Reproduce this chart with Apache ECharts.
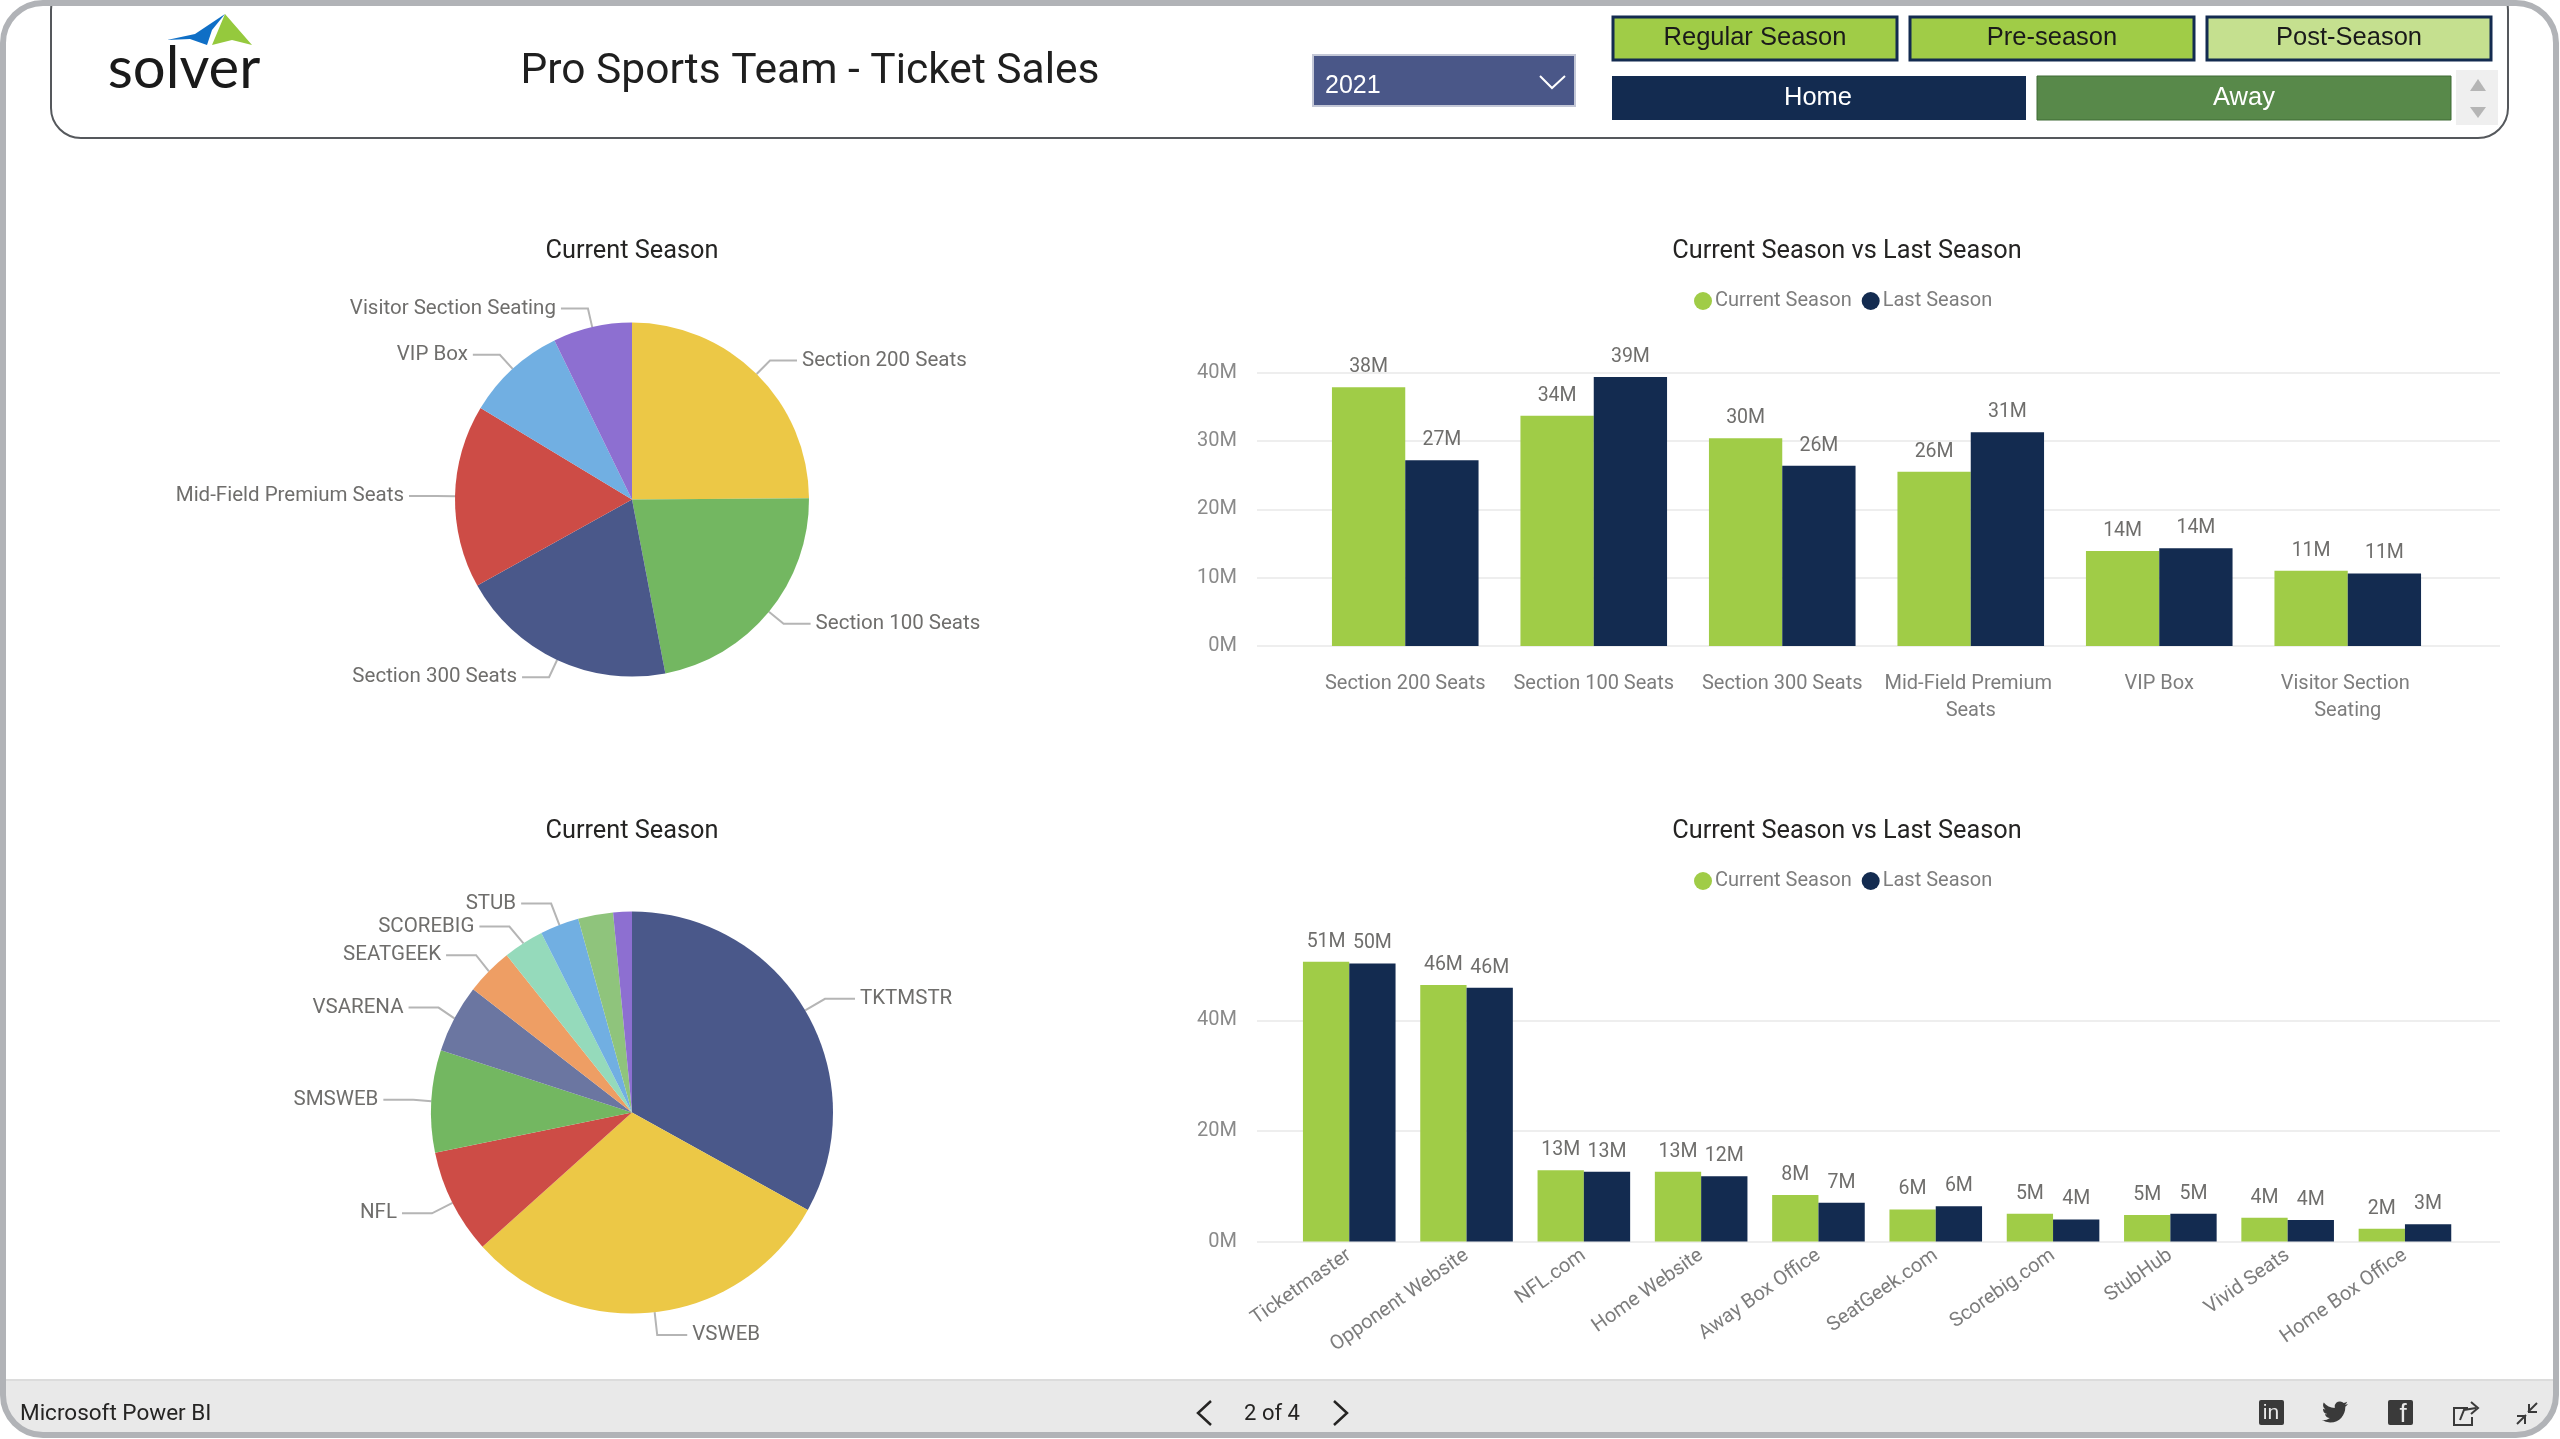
<!DOCTYPE html>
<html>
<head>
    <meta charset="utf-8">
    <title>Pro Sports Team - Ticket Sales</title>
    <script src="https://cdn.jsdelivr.net/npm/echarts@6/dist/echarts.min.js"></script>
    <style>
        html, body { margin: 0; padding: 0; background: #fff; }
        #main { width: 2560px; height: 1439px; }
    </style>
</head>
<body>
<div id="main"></div>
<script type="text/javascript">
    // seat sections
    var seatNames = ['Section 200 Seats', 'Section 100 Seats', 'Section 300 Seats', 'Mid-Field Premium Seats', 'VIP Box', 'Visitor Section Seating'];
    var seatCurrent = [37.9, 33.7, 30.4, 25.5, 13.9, 11.0];
    var seatLast = [27.2, 39.4, 26.4, 31.3, 14.3, 10.6];
    var seatTicks = 10;

    // sales channels
    var channelNames = ['Ticketmaster', 'Opponent Website', 'NFL.com', 'Home Website', 'Away Box Office', 'SeatGeek.com', 'Scorebig.com', 'StubHub', 'Vivid Seats', 'Home Box Office'];
    var channelCodes = ['TKTMSTR', 'VSWEB', 'NFL', 'SMSWEB', 'VSARENA', 'SEATGEEK', 'SCOREBIG', 'STUB', 'VIVID', 'HOMEBOX'];
    var channelCurrent = [50.6, 46.4, 12.9, 12.6, 8.4, 5.8, 5.0, 4.8, 4.3, 2.3];
    var channelLast = [50.3, 45.9, 12.6, 11.8, 7.0, 6.4, 4.0, 5.0, 3.9, 3.1];
    var channelTicks = 20;

    var seasonButtons = ['Regular Season', 'Pre-season', 'Post-Season'];
    var pieColors = ['#ECC846', '#73B761', '#4A588A', '#CD4C46', '#71AFE2', '#8D6FD1'];
    var channelColors = ['#4A588A', '#ECC846', '#CD4C46', '#73B761', '#6B76A1', '#EE9E64', '#95DABB', '#71AFE2', '#8FC47C', '#8D6FD1'];

    var GREEN = '#A0CC47', NAVY = '#132B50';
    var LABEL_FONT = 'Roboto';
    var BTN_FONT = 'Liberation Sans';

    function pieSeries(names, values, colors, center, radius, labelled, lineLen, lineLen2) {
        return {
            type: 'pie',
            center: center,
            radius: radius,
            startAngle: 90,
            silent: true,
            label: { color: '#6f6e6c', fontFamily: LABEL_FONT, fontSize: 20.5 },
            labelLine: { length: lineLen, length2: lineLen2, lineStyle: { color: '#b5b5b5', width: 2 } },
            data: names.map(function (n, i) {
                var show = i < labelled;
                return {
                    name: n, value: values[i],
                    itemStyle: { color: colors[i] },
                    label: { show: show },
                    labelLine: { show: show }
                };
            })
        };
    }

    function barSeries(name, values, color, axisIdx, width) {
        return {
            name: name,
            type: 'bar',
            xAxisIndex: axisIdx,
            yAxisIndex: axisIdx,
            barWidth: width,
            barGap: 0,
            silent: true,
            itemStyle: { color: color },
            label: {
                show: true, position: 'top', distance: 10,
                color: '#6f6e6c', fontFamily: LABEL_FONT, fontSize: 19.5,
                formatter: function (p) { return Math.round(p.value) + 'M'; }
            },
            data: values
        };
    }

    // wide grid only carries the gridlines and tick labels, bars sit in an inner grid
    function tickAxes(gridIdx, step) {
        return {
            x: { type: 'category', gridIndex: gridIdx, show: false, data: [] },
            y: {
                type: 'value', gridIndex: gridIdx, min: 0, max: 40, interval: step,
                axisLine: { show: false }, axisTick: { show: false },
                axisLabel: { color: '#8a8a8a', fontFamily: LABEL_FONT, fontSize: 20, margin: 20, formatter: '{value}M' },
                splitLine: { lineStyle: { color: '#eeeeee', width: 2 } }
            }
        };
    }

    function barAxes(gridIdx, names, max, labelOpt) {
        return {
            x: {
                type: 'category', gridIndex: gridIdx, data: names,
                axisLine: { show: false }, axisTick: { show: false },
                axisLabel: Object.assign({ interval: 0, color: '#7d7d7d', fontFamily: LABEL_FONT, fontSize: 20 }, labelOpt)
            },
            y: { type: 'value', gridIndex: gridIdx, min: 0, max: max, show: false, splitLine: { show: false } }
        };
    }

    function legend(top) {
        return {
            top: top, left: 1694, icon: 'circle', padding: 0,
            itemWidth: 18, itemHeight: 18, itemGap: 10,
            selectedMode: false,
            textStyle: { color: '#7d7d7d', fontFamily: LABEL_FONT, fontSize: 20, padding: [0, 0, 0, -2] },
            data: ['Current Season', 'Last Season']
        };
    }

    function title(text, x, y) {
        return {
            text: text, left: x, top: y, padding: 0, textAlign: 'center', textVerticalAlign: 'middle',
            textStyle: { color: '#252423', fontFamily: LABEL_FONT, fontSize: 25.3, fontWeight: 'normal' }
        };
    }

    function box(x, y, w, h, fill, stroke, lw, r, z) {
        return {
            type: 'rect', z: z || 1,
            shape: { x: x, y: y, width: w, height: h, r: r || 0 },
            style: { fill: fill, stroke: stroke || null, lineWidth: lw || 0 }
        };
    }

    function label(text, x, y, size, color, font, align) {
        return {
            type: 'text', z: 5, x: x, y: y,
            style: { text: text, fill: color, fontFamily: font || LABEL_FONT, fontSize: size, align: align || 'center', verticalAlign: 'middle' }
        };
    }

    function line(points, color, lw) {
        return { type: 'polyline', z: 5, shape: { points: points }, style: { stroke: color, lineWidth: lw, fill: null } };
    }

    function triangle(points, color) {
        return { type: 'polygon', z: 5, shape: { points: points }, style: { fill: color } };
    }

    var TWITTER = 'M23.953 4.57 a10 10 0 0 1 -2.825 .775 4.958 4.958 0 0 0 2.163 -2.723 c-.951 .555 -2.005 .959 -3.127 1.184 a4.92 4.92 0 0 0 -8.384 4.482 C7.69 8.095 4.067 6.13 1.64 3.162 a4.822 4.822 0 0 0 -.666 2.475 c0 1.71 .87 3.213 2.188 4.096 a4.904 4.904 0 0 1 -2.228 -.616 v.06 a4.923 4.923 0 0 0 3.946 4.827 4.996 4.996 0 0 1 -2.212 .085 4.936 4.936 0 0 0 4.604 3.417 9.867 9.867 0 0 1 -6.102 2.105 c-.39 0 -.779 -.023 -1.17 -.067 a13.995 13.995 0 0 0 7.557 2.209 c9.053 0 13.998 -7.496 13.998 -13.985 0 -.21 0 -.42 -.015 -.63 A9.935 9.935 0 0 0 24 4.59 z';
    echarts.graphic.registerShape('twitterBird', echarts.graphic.extendPath(TWITTER));

    var graphics = [
        // footer bar and frame
        box(3, 1380, 2553, 55, '#e9e9e9', null, 0, [0, 0, 40, 40], 1),
        line([[6, 1380], [2554, 1380]], '#dcdcdc', 2),
        box(51, -20, 2457, 158, null, '#55585c', 2, 30, 2),
        box(3, 3, 2553, 1432, null, '#b1b3b7', 6, 40, 6),

        // logo
        triangle([[167, 40], [195, 34], [225, 14], [212, 30], [207, 45], [190, 39]], '#0f6fc6'),
        triangle([[225, 14], [252, 45], [232, 40], [212, 45]], '#95c93d'),
        label('solver', 184, 69, 58, '#1a1a1a', 'Lato'),
        label('Pro Sports Team - Ticket Sales', 810, 72, 42.5, '#1f1f1f'),

        // year slicer
        box(1313, 55, 262, 51, '#4A5788', '#c3c7d6', 2),
        label('2021', 1325, 86, 25, '#ffffff', BTN_FONT, 'left'),
        line([[1540, 76], [1552, 88], [1565, 76]], '#ffffff', 2),

        // season buttons
        box(1613, 17, 284, 43, GREEN, NAVY, 3),
        label(seasonButtons[0], 1755, 38, 25.5, '#1a1a1a', BTN_FONT),
        box(1910, 17, 284, 43, GREEN, NAVY, 3),
        label(seasonButtons[1], 2052, 38, 25.5, '#1a1a1a', BTN_FONT),
        box(2207, 17, 284, 43, '#C5E08F', NAVY, 3),
        label(seasonButtons[2], 2349, 38, 25.5, '#1a1a1a', BTN_FONT),

        // home / away buttons and scroller
        box(1612, 76, 414, 44, NAVY),
        label('Home', 1818, 98, 25.5, '#ffffff', BTN_FONT),
        box(2037, 76, 414, 44, '#58894A', '#3f6b35', 1),
        label('Away', 2244, 98, 25.5, '#ffffff', BTN_FONT),
        box(2456, 70, 42, 55, '#efefef'),
        triangle([[2470, 91], [2478, 79], [2486, 91]], '#b5b5b5'),
        triangle([[2470, 107], [2478, 118], [2486, 107]], '#b5b5b5'),

        // footer text and icons
        label('Microsoft Power BI', 20, 1414, 22.5, '#252423', 'Roboto', 'left'),
        line([[1211, 1401], [1198, 1413], [1211, 1425]], '#252423', 2.5),
        label('2 of 4', 1272, 1414, 22, '#252423'),
        line([[1334, 1401], [1347, 1413], [1334, 1425]], '#252423', 2.5),
        box(2259, 1400, 25, 25, '#3a3a3a', null, 0, 2, 5),
        label('in', 2271, 1413, 21, '#e9e9e9', 'Liberation Sans'),
        { type: 'twitterBird', z: 5, x: 2322, y: 1399, scaleX: 1.08, scaleY: 1.08, style: { fill: '#3a3a3a' } },
        box(2388, 1400, 25, 25, '#3a3a3a', null, 0, 2, 5),
        label('f', 2403, 1415, 26, '#e9e9e9', 'Liberation Sans'),
        line([[2468, 1408], [2454, 1408], [2454, 1425], [2472, 1425], [2472, 1417]], '#3a3a3a', 2),
        line([[2460, 1420], [2464, 1410], [2476, 1408]], '#3a3a3a', 2),
        line([[2471, 1402], [2478, 1408], [2471, 1414]], '#3a3a3a', 2),
        line([[2517, 1424], [2526, 1415]], '#3a3a3a', 2),
        line([[2517, 1416], [2525, 1416], [2525, 1424]], '#3a3a3a', 2),
        line([[2528, 1412], [2537, 1403]], '#3a3a3a', 2),
        line([[2529, 1404], [2529, 1412], [2537, 1412]], '#3a3a3a', 2)
    ];

    var wideTop = tickAxes(0, seatTicks), wideBottom = tickAxes(2, channelTicks);
    var seatAxes = barAxes(1, seatNames, 50, { margin: 24, width: 184, overflow: 'break', lineHeight: 27 });
    var channelAxes = barAxes(3, channelNames, 60, { margin: 12, rotate: 35 });

    var option = {
        animation: false,
        backgroundColor: '#ffffff',
        title: [
            title('Current Season', 632, 252),
            title('Current Season vs Last Season', 1847, 252),
            title('Current Season', 632, 832),
            title('Current Season vs Last Season', 1847, 832)
        ],
        legend: [legend(291), legend(871)],
        grid: [
            { left: 1257, width: 1243, top: 372.8, height: 273.2 },
            { left: 1311, width: 1131, top: 304.5, height: 341.5 },
            { left: 1257, width: 1243, top: 1020.4, height: 221.1 },
            { left: 1290.6, width: 1173, top: 909.9, height: 331.6 }
        ],
        xAxis: [wideTop.x, seatAxes.x, wideBottom.x, channelAxes.x],
        yAxis: [wideTop.y, seatAxes.y, wideBottom.y, channelAxes.y],
        series: [
            pieSeries(seatNames, seatCurrent, pieColors, [632, 499.6], 177, 6, 19, 27),
            pieSeries(channelCodes, channelCurrent, channelColors, [632, 1112.5], 201, 8, 23, 30),
            barSeries('Current Season', seatCurrent, GREEN, 1, 73.3),
            barSeries('Last Season', seatLast, NAVY, 1, 73.3),
            barSeries('Current Season', channelCurrent, GREEN, 3, 46.3),
            barSeries('Last Season', channelLast, NAVY, 3, 46.3)
        ],
        graphic: { elements: graphics }
    };

    var myChart = echarts.init(document.getElementById('main'));
    myChart.setOption(option);
</script>
</body>
</html>
